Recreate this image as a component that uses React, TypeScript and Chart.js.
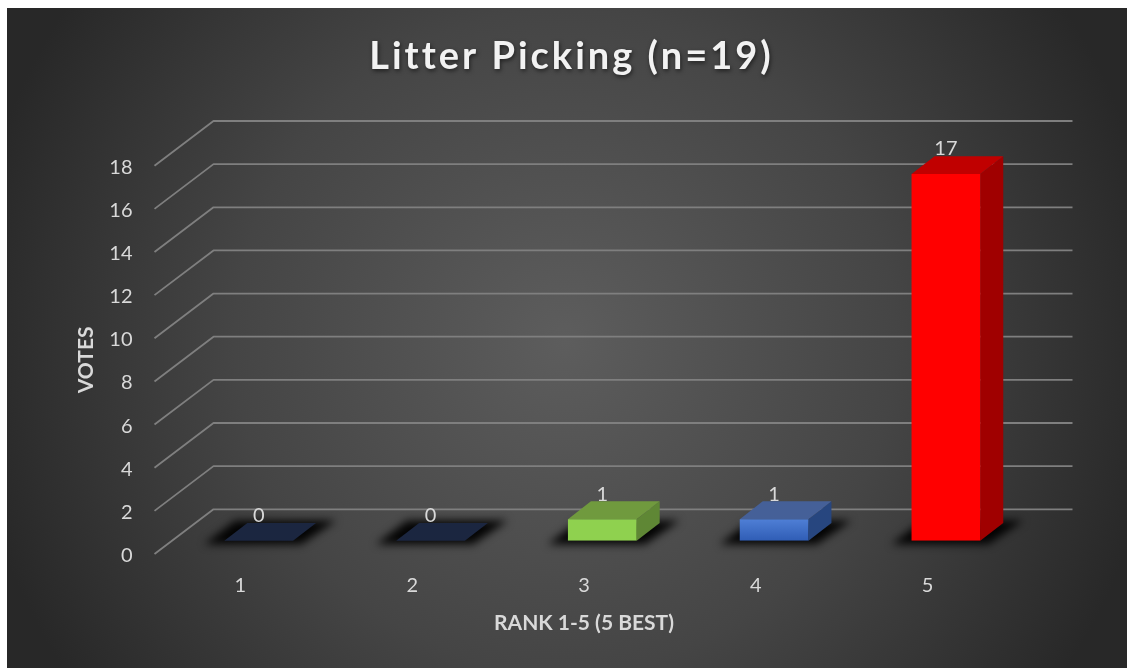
import React, { useEffect, useRef } from "react";
import { Chart, registerables } from "chart.js";

Chart.register(...registerables);

const categories = ["1", "2", "3", "4", "5"];
const votes = [0, 0, 1, 1, 17];
const titleText = "Litter Picking (n=19)";
const xTitle = "RANK 1-5 (5 BEST)";
const yTitle = "VOTES";
const frontColors = ["#1b2640", "#1b2640", "#8fd14f", "#4f7fd6", "#ff0000"];
const frontColorsBottom = ["#1b2640", "#1b2640", "#8fd14f", "#2f5db5", "#ff0000"];
const topColors = ["#1b2640", "#1b2640", "#709a3e", "#456098", "#c00000"];
const sideColors = ["#1b2640", "#1b2640", "#5f8735", "#27467f", "#a00000"];

const FONT = "Lato, Carlito, Calibri, sans-serif";
const WALL_DX = 59;
const WALL_DY = -44.7;
const BAR_SHIFT_X = 18.3;
const BAR_SHIFT_Y = -13.3;
const BAR_DX = 23;
const BAR_DY = -17.8;

function poly(ctx: any, pts: number[][], fill: string) {
  ctx.beginPath();
  pts.forEach((p, i) => (i ? ctx.lineTo(p[0], p[1]) : ctx.moveTo(p[0], p[1])));
  ctx.closePath();
  ctx.fillStyle = fill;
  ctx.fill();
}

const scene3d = {
  id: "scene3d",
  beforeDraw(chart: any) {
    const { ctx, width, height } = chart;
    const g = ctx.createRadialGradient(558, 332, 0, 558, 332, 600);
    g.addColorStop(0, "#5d5d5d");
    g.addColorStop(0.55, "#454545");
    g.addColorStop(1, "#282828");
    ctx.save();
    ctx.fillStyle = g;
    ctx.fillRect(0, 0, width, height);
    ctx.restore();
  },
  afterLayout(chart: any) {
    const block = chart.titleBlock;
    if (block && !block.__patched) {
      const orig = block.draw;
      block.draw = function (...args: any[]) {
        const c = chart.ctx;
        c.save();
        c.translate(28, 1);
        c.letterSpacing = "3px";
        c.shadowColor = "rgba(0,0,0,0.55)";
        c.shadowBlur = 4;
        c.shadowOffsetY = 2;
        c.shadowOffsetX = 1;
        orig.apply(this, args);
        c.restore();
      };
      block.__patched = true;
    }
    const y = chart.scales.y;
    if (y && !y.__patched) {
      const origLabels = y.drawLabels;
      y.drawLabels = function (...args: any[]) {
        const c = chart.ctx;
        c.save();
        c.translate(0, 1.5);
        origLabels.apply(this, args);
        c.restore();
      };
      y.__patched = true;
    }
  },
  beforeDatasetsDraw(chart: any) {
    const { ctx, chartArea, scales } = chart;
    ctx.save();
    ctx.strokeStyle = "#7f7f7f";
    ctx.lineWidth = 1.8;
    ctx.lineJoin = "round";
    scales.y.ticks.forEach((t: any) => {
      const y = scales.y.getPixelForValue(t.value);
      ctx.beginPath();
      ctx.moveTo(chartArea.left, y);
      ctx.lineTo(chartArea.left + WALL_DX, y + WALL_DY);
      ctx.lineTo(chartArea.right + WALL_DX, y + WALL_DY);
      ctx.stroke();
    });
    const meta = chart.getDatasetMeta(0);
    meta.data.forEach((bar: any) => {
      const x0 = bar.x - bar.width / 2 + BAR_SHIFT_X;
      const x1 = bar.x + bar.width / 2 + BAR_SHIFT_X;
      const yb = scales.y.getPixelForValue(0) + BAR_SHIFT_Y;
      ctx.save();
      ctx.filter = "blur(4px)";
      poly(
        ctx,
        [
          [x0 - 20, yb + 3.5],
          [x1 + 8, yb + 3.5],
          [x1 + BAR_DX + 20, yb + BAR_DY - 2.5],
          [x0 + BAR_DX - 12, yb + BAR_DY - 2.5],
        ],
        "rgba(0,0,0,0.95)"
      );
      ctx.restore();
    });
    meta.data.forEach((bar: any, i: number) => {
      const x0 = bar.x - bar.width / 2 + BAR_SHIFT_X;
      const x1 = bar.x + bar.width / 2 + BAR_SHIFT_X;
      const yb = scales.y.getPixelForValue(0) + BAR_SHIFT_Y;
      const yt = bar.y + BAR_SHIFT_Y;
      poly(
        ctx,
        [
          [x1, yb],
          [x1 + BAR_DX, yb + BAR_DY],
          [x1 + BAR_DX, yt + BAR_DY],
          [x1, yt],
        ],
        sideColors[i]
      );
      poly(
        ctx,
        [
          [x0, yt],
          [x1, yt],
          [x1 + BAR_DX, yt + BAR_DY],
          [x0 + BAR_DX, yt + BAR_DY],
        ],
        topColors[i]
      );
    });
    ctx.restore();
    ctx.save();
    ctx.translate(BAR_SHIFT_X, BAR_SHIFT_Y);
  },
  afterDatasetsDraw(chart: any) {
    const { ctx } = chart;
    ctx.restore();
    ctx.save();
    ctx.font = `20px ${FONT}`;
    ctx.fillStyle = "#d9d9d9";
    ctx.textAlign = "center";
    ctx.textBaseline = "middle";
    chart.getDatasetMeta(0).data.forEach((bar: any, i: number) => {
      ctx.fillText(String(votes[i]), bar.x + BAR_SHIFT_X, bar.y + BAR_SHIFT_Y - 25);
    });
    ctx.restore();
  },
};

export default function App() {
  const ref = useRef<HTMLCanvasElement>(null);
  useEffect(() => {
    const chart = new Chart(ref.current as HTMLCanvasElement, {
      type: "bar",
      data: {
        labels: categories,
        datasets: [
          {
            data: votes,
            categoryPercentage: 1,
            barPercentage: 0.4,
            borderWidth: 0,
            backgroundColor: (c: any) => {
              const i = c.dataIndex;
              const fallback = frontColors[i] ?? "#000000";
              const y = c.chart.scales?.y;
              if (!y || i === undefined) return fallback;
              const top = y.getPixelForValue(votes[i]);
              const bottom = y.getPixelForValue(0);
              if (!isFinite(top) || !isFinite(bottom) || top === bottom) return fallback;
              const g = c.chart.ctx.createLinearGradient(0, top, 0, bottom);
              g.addColorStop(0, frontColors[i]);
              g.addColorStop(1, frontColorsBottom[i]);
              return g;
            },
          },
        ],
      },
      options: {
        responsive: false,
        animation: false,
        layout: { padding: { left: 66.5, right: 113.5, top: 0, bottom: 32.4 } },
        plugins: {
          legend: { display: false },
          tooltip: { enabled: false },
          title: {
            display: true,
            text: titleText,
            color: "#f2f2f2",
            font: { family: FONT, size: 38, weight: "bold", lineHeight: 1.2 },
            padding: { top: 25.2, bottom: 86.9 },
          },
        },
        scales: {
          x: {
            grid: { display: false },
            border: { display: false },
            ticks: { color: "#d9d9d9", font: { family: FONT, size: 20 }, padding: 12, maxRotation: 0 },
            title: {
              display: true,
              text: xTitle,
              color: "#d9d9d9",
              font: { family: FONT, size: 21, weight: "bold", lineHeight: 1.2 },
              padding: 0,
            },
            afterFit(s: any) {
              s.height = 81.6;
            },
          },
          y: {
            min: 0,
            max: 18,
            grid: { display: false, drawTicks: false },
            border: { display: false },
            ticks: { stepSize: 2, color: "#d9d9d9", font: { family: FONT, size: 20 }, padding: 22 },
            title: {
              display: true,
              text: yTitle,
              color: "#d9d9d9",
              font: { family: FONT, size: 21, weight: "bold", lineHeight: 1.2 },
              padding: 0,
            },
            afterFit(s: any) {
              s.width = 81;
            },
          },
        },
      },
      plugins: [scene3d],
    } as any);
    return () => chart.destroy();
  }, []);
  return (
    <canvas
      ref={ref}
      width={1120}
      height={660}
      style={{ position: "absolute", left: 7, top: 8, width: 1120, height: 660, display: "block" }}
    />
  );
}
